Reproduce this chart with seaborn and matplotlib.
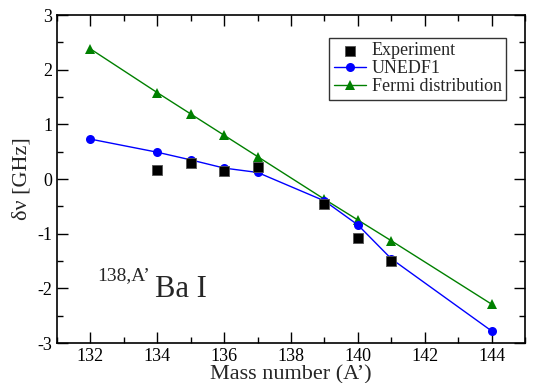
import matplotlib
matplotlib.use("Agg")
import matplotlib.pyplot as plt
import seaborn as sns
import pandas as pd
from matplotlib.ticker import MultipleLocator

sns.set_theme(style="ticks")
plt.rcParams['font.family'] = ['Liberation Serif', 'DejaVu Serif']
plt.rcParams['axes.unicode_minus'] = False

exp_mass = [134, 135, 136, 137, 139, 140, 141]
exp_val = [0.16, 0.29, 0.15, 0.22, -0.46, -1.07, -1.50]

unedf_mass = [132, 134, 135, 136, 137, 139, 140, 141, 144]
unedf_val = [0.73, 0.49, 0.35, 0.20, 0.12, -0.40, -0.84, -1.46, -2.78]

fermi_mass = [132, 134, 135, 136, 137, 139, 140, 141, 144]
fermi_val = [2.38, 1.58, 1.19, 0.80, 0.41, -0.37, -0.75, -1.13, -2.29]

df_exp = pd.DataFrame({"A": exp_mass, "dv": exp_val})
df_un = pd.DataFrame({"A": unedf_mass, "dv": unedf_val})
df_fe = pd.DataFrame({"A": fermi_mass, "dv": fermi_val})

fig = plt.figure(figsize=(5.34, 3.83), dpi=100)
ax = fig.add_axes([0.1067, 0.1044, 0.8766, 0.8564])

sns.lineplot(data=df_fe, x="A", y="dv", ax=ax, color="#008000", marker="^",
             markersize=7, markeredgewidth=0, linewidth=1.0, label="Fermi distribution", zorder=2)
sns.lineplot(data=df_un, x="A", y="dv", ax=ax, color="#0000ff", marker="o",
             markersize=6.5, markeredgewidth=0, linewidth=1.0, label="UNEDF1", zorder=3)
sns.scatterplot(data=df_exp, x="A", y="dv", ax=ax, color="black", marker="s",
                s=55, edgecolor="#555555", linewidth=0.6, label="Experiment", zorder=4)

ax.set_xlim(131, 145)
ax.set_ylim(-3, 3)
ax.xaxis.set_major_locator(MultipleLocator(2))
ax.xaxis.set_minor_locator(MultipleLocator(1))
ax.yaxis.set_major_locator(MultipleLocator(1))
ax.yaxis.set_minor_locator(MultipleLocator(0.5))
ax.tick_params(which="both", direction="in", top=True, right=True, labelsize=13, width=1.0, colors="black")
ax.tick_params(which="major", length=8)
ax.tick_params(which="minor", length=4)
ax.set_xticks(range(132, 145, 2))
for sp in ax.spines.values():
    sp.set_linewidth(1.2)
    sp.set_color("black")

ax.set_xlabel("Mass number (A\u2019)", fontsize=16, labelpad=0)
ax.set_ylabel("\u03b4\u03bd [GHz]", fontsize=16, labelpad=4)

ax.text(132.2, -1.85, "138,A\u2019", fontsize=14, va="baseline", ha="left")
ax.text(133.94, -2.16, "Ba I", fontsize=22, va="baseline", ha="left")

h, l = ax.get_legend_handles_labels()
order = [l.index("Experiment"), l.index("UNEDF1"), l.index("Fermi distribution")]
leg = ax.legend([h[i] for i in order], [l[i] for i in order], loc="upper right",
                bbox_to_anchor=(0.96, 0.93), fontsize=13, frameon=True, fancybox=False,
                edgecolor="black", handlelength=1.8, borderpad=0.25, labelspacing=0.05,
                handletextpad=0.3, borderaxespad=0)
leg.get_frame().set_linewidth(1.0)

fig.savefig("out.png", dpi=100)
